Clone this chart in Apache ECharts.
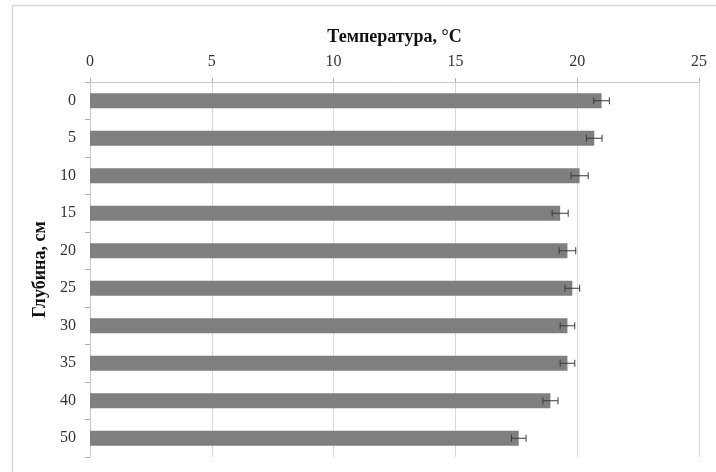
<!DOCTYPE html>
<html>
<head>
<meta charset="utf-8">
<script src="https://cdn.jsdelivr.net/npm/echarts@6/dist/echarts.min.js"></script>
<style>
  html, body { margin: 0; padding: 0; background: #fff; }
  #chart { width: 716px; height: 472px; }
</style>
</head>
<body>
<div id="chart"></div>
<script>
// Soil depth (cm) and mean temperature (°C) with standard error
const depths = ['0', '5', '10', '15', '20', '25', '30', '35', '40', '50'];
const temperature = [21.0, 20.7, 20.1, 19.3, 19.6, 19.8, 19.6, 19.6, 18.9, 17.6];
const stdError = [0.32, 0.32, 0.35, 0.33, 0.34, 0.30, 0.30, 0.30, 0.31, 0.30];
const xTicks = [0, 5, 10, 15, 20, 25];

const FONT = '"Liberation Serif", "Times New Roman", serif';

const errorData = depths.map((d, i) => [i, temperature[i] - stdError[i], temperature[i] + stdError[i]]);

const chart = echarts.init(document.getElementById('chart'), null, { renderer: 'canvas' });

chart.setOption({
  animation: false,
  backgroundColor: '#ffffff',
  graphic: [{
    type: 'rect',
    shape: { x: 12.5, y: 5.5, width: 900, height: 700 },
    style: { fill: 'none', stroke: '#d9d9d9', lineWidth: 1.5 },
    silent: true,
    z: -10
  }],
  grid: { left: 90, right: 17, top: 82, bottom: 15 },
  xAxis: {
    type: 'value',
    position: 'top',
    min: xTicks[0],
    max: xTicks[xTicks.length - 1],
    interval: 5,
    name: 'Температура, °C',
    nameLocation: 'middle',
    nameGap: 36,
    nameTextStyle: { fontFamily: FONT, fontWeight: 'bold', fontSize: 18, color: '#111' },
    axisLine: { show: true, lineStyle: { color: '#c8c8c8', width: 1 } },
    axisTick: { show: true, length: 4, lineStyle: { color: '#b0b0b0' } },
    axisLabel: { fontFamily: FONT, fontSize: 16, color: '#333', margin: 12 },
    splitLine: { show: true, lineStyle: { color: '#d9d9d9', width: 1 } }
  },
  yAxis: {
    type: 'category',
    data: depths,
    inverse: true,
    name: 'Глубина, см',
    nameLocation: 'middle',
    nameGap: 41,
    nameRotate: 90,
    nameTextStyle: { fontFamily: FONT, fontWeight: 'bold', fontSize: 18, color: '#111' },
    axisLine: { show: true, lineStyle: { color: '#c8c8c8', width: 1 } },
    axisTick: { show: true, length: 5, lineStyle: { color: '#b0b0b0' } },
    axisLabel: { fontFamily: FONT, fontSize: 16, color: '#333', margin: 14 },
    splitLine: { show: false }
  },
  series: [
    {
      type: 'bar',
      data: temperature,
      barWidth: '40%',
      itemStyle: { color: '#7f7f7f' },
      z: 2
    },
    {
      type: 'custom',
      data: errorData,
      z: 3,
      renderItem: function (params, api) {
        const yi = api.value(0);
        const lo = api.coord([api.value(1), yi]);
        const hi = api.coord([api.value(2), yi]);
        const cap = 3.5;
        const style = { stroke: '#3a3a3a', lineWidth: 1, fill: null };
        return {
          type: 'group',
          children: [
            { type: 'line', shape: { x1: lo[0], y1: lo[1], x2: hi[0], y2: hi[1] }, style: style },
            { type: 'line', shape: { x1: lo[0], y1: lo[1] - cap, x2: lo[0], y2: lo[1] + cap }, style: style },
            { type: 'line', shape: { x1: hi[0], y1: hi[1] - cap, x2: hi[0], y2: hi[1] + cap }, style: style }
          ]
        };
      }
    }
  ]
});
</script>
</body>
</html>
